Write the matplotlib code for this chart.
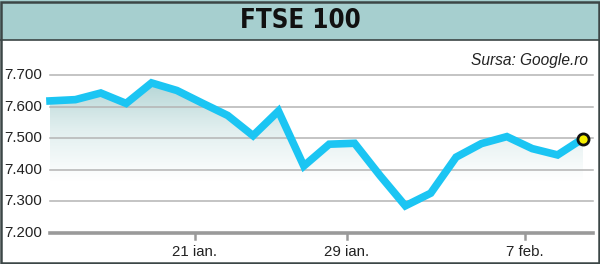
import numpy as np
import matplotlib
matplotlib.use("Agg")
import matplotlib.pyplot as plt
from matplotlib.patches import Rectangle, Polygon

# valori FTSE 100 (zile de tranzactionare)
zile = ["13 ian.", "14 ian.", "15 ian.", "16 ian.", "17 ian.", "20 ian.", "21 ian.",
        "22 ian.", "23 ian.", "24 ian.", "27 ian.", "28 ian.", "29 ian.", "30 ian.",
        "31 ian.", "3 feb.", "4 feb.", "5 feb.", "6 feb.", "7 feb.", "10 feb.", "11 feb."]
valori = [7618, 7622, 7643, 7610, 7675, 7651, 7611, 7572, 7508, 7586, 7412,
          7481, 7484, 7382, 7286, 7326, 7440, 7483, 7505, 7467, 7447, 7499]
etichete_x = ["21 ian.", "29 ian.", "7 feb."]
etichete_y = [7200, 7300, 7400, 7500, 7600, 7700]

W, H = 600, 264
fig = plt.figure(figsize=(W / 100, H / 100), dpi=100)

# banda de titlu
fig.patches.append(Rectangle((0, 1 - 40 / H), 1, 40 / H, transform=fig.transFigure,
                             facecolor="#a6cfcf", edgecolor="none", zorder=0))
fig.add_artist(plt.Line2D([0, 1], [1 - 40 / H, 1 - 40 / H], color="#3c4646", lw=1.2))
fig.patches.append(Rectangle((1 / W, 1 / H), 1 - 2.5 / W, 1 - 2.5 / H, transform=fig.transFigure,
                             facecolor="none", edgecolor="#3c4646", lw=1.8, zorder=5))
fig.text(0.5, 1 - 21 / H, "FTSE 100", ha="center", va="center", fontsize=18.5,
         fontweight="bold", fontstretch="condensed", family="DejaVu Sans", color="#111111")
fig.text(588 / W, 1 - 61 / H, "Sursa: Google.ro", ha="right", va="center", fontsize=11.2,
         style="italic", family=["Liberation Sans", "DejaVu Sans"], color="#222222")

x = np.arange(len(valori))
left, right, bottom, top = 50 / W, 593 / W, 1 - 233 / H, 1 - 75 / H
ax = fig.add_axes([left, bottom, right - left, top - bottom])
ax.set_xlim(0, (len(valori) - 1) * (593 - 50) / (583 - 50))
ax.set_ylim(7200, 7700)
ax.axis("off")

# gradient sub linie
grad = np.linspace(0, 1, 256).reshape(-1, 1)
img = ax.imshow(grad, extent=[0, len(valori) - 1, 7200, 7700], origin="lower", aspect="auto",
                cmap=matplotlib.colors.LinearSegmentedColormap.from_list(
                    "g", ["#ffffff", "#ffffff", "#e0eeee", "#aed2d2"]),
                zorder=1)
poly = Polygon(list(zip(x, valori)) + [(x[-1], 7200), (0, 7200)], closed=True,
               transform=ax.transData, facecolor="none", edgecolor="none")
ax.add_patch(poly)
img.set_clip_path(poly)

# grila
for v in etichete_y[1:]:
    ax.axhline(v, color="#b4b4b4", lw=1.1, zorder=2, clip_on=False)
ax.axhline(7200, color="#9a9a9a", lw=2.6, zorder=2, clip_on=False)
for v in etichete_y:
    ax.text(-0.3, v, f"{v / 1000:.3f}", ha="right", va="center", fontsize=10.8,
            family=["Liberation Sans", "DejaVu Sans"], color="#222222")

# etichete axa x
for e in etichete_x:
    i = zile.index(e) - 0.3
    ax.plot([i, i], [7200, 7180], color="#9a9a9a", lw=1.8, clip_on=False, zorder=2)
    ax.text(i, 7140, e, ha="center", va="center", fontsize=10.8,
            family=["Liberation Sans", "DejaVu Sans"], color="#222222")

ax.plot(x, valori, color="#1bc5f3", lw=5.5, solid_joinstyle="miter", zorder=3, clip_on=False)
ax.plot(x[-1], valori[-1], "o", ms=8, mfc="#f5ee00", mec="#111111", mew=2, zorder=4, clip_on=False)

fig.savefig("out.png", dpi=100)
